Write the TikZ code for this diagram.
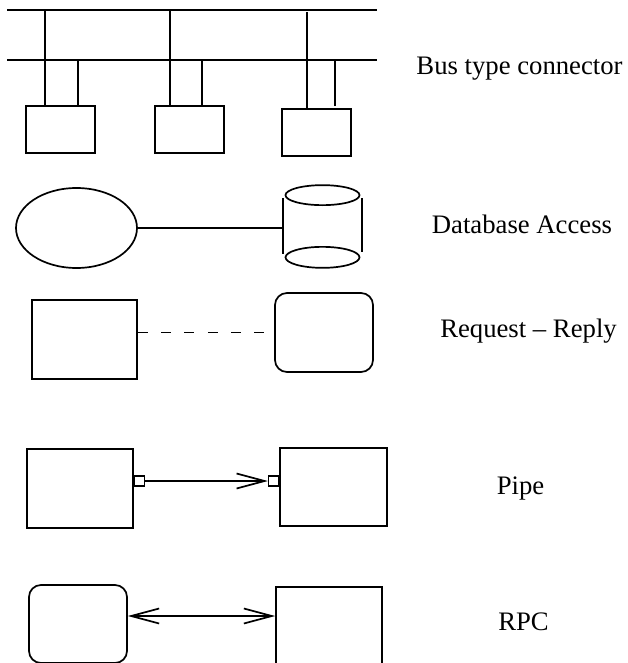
\documentclass[tikz,border=0pt]{standalone}
\usepackage{fontspec}
\setmainfont{Liberation Serif}
\usetikzlibrary{arrows.meta,shapes.geometric}
\begin{document}
\begin{tikzpicture}[
            x=1pt, y=-1pt,
            line width=1.7pt,
            box/.style={draw, rectangle, inner sep=0pt},
            rbox/.style={draw, rectangle, rounded corners=12pt, inner sep=0pt},
            port/.style={draw, rectangle, inner sep=0pt, minimum width=10pt, minimum height=10pt, line width=1.3pt},
            barb/.tip={Straight Barb[length=28pt,width=15pt]},
            desc/.style={anchor=base, inner sep=0pt, font=\fontsize{26.7}{32}\selectfont}
        ]
        \useasboundingbox (0,0) rectangle (627,663);

        \coordinate (T1) at (7,10);
        \coordinate (T2) at (377,10);
        \coordinate (M1) at (7,60);
        \coordinate (M2) at (377,60);
        \draw (T1) -- (T2);
        \draw (M1) -- (M2);

        \node[box, minimum width=69pt, minimum height=47pt] (B) at (60.5,129.5) {};
        \node[box, minimum width=69pt, minimum height=47pt] (C) at (189.5,129.5) {};
        \node[box, minimum width=69pt, minimum height=47pt] (D) at (316.5,132.5) {};

        \draw ([xshift=-15.5pt]B.north) -- ([xshift=-15.5pt]B.north |- T1);
        \draw ([xshift=17.5pt]B.north) -- ([xshift=17.5pt]B.north |- M1);
        \draw ([xshift=-19.5pt]C.north) -- ([xshift=-19.5pt]C.north |- T1);
        \draw ([xshift=12.5pt]C.north) -- ([xshift=12.5pt]C.north |- M1);
        \draw ([xshift=-9.5pt]D.north) -- ++(0,-96);
        \draw ([xshift=18.5pt,yshift=2pt]D.north) -- ++(0,-45);

        \node[draw, ellipse, minimum width=121pt, minimum height=80pt, inner sep=0pt] (E) at (76.5,228) {};
        \node[minimum width=77pt, minimum height=81pt, inner sep=0pt] (F) at (322.5,226.5) {};
        \draw ([yshift=-10pt]F.north) ellipse (37pt and 10pt);
        \draw ([yshift=10.5pt]F.south) ellipse (37pt and 10.5pt);
        \draw ([yshift=-13pt]F.north west) -- ([yshift=14pt]F.south west);
        \draw ([yshift=-13pt]F.north east) -- ([yshift=16pt]F.south east);
        \draw (E.east) -- (E.east -| F.west);

        \node[box, minimum width=105pt, minimum height=79pt] (G) at (84.5,339.5) {};
        \node[rbox, minimum width=98pt, minimum height=79pt] (H) at (324,332.5) {};
        \draw[dash pattern=on 10pt off 13.3pt] (G.east |- H.west) -- ([xshift=-10pt]H.west);

        \node[box, minimum width=106pt, minimum height=79pt] (P) at (80,488.5) {};
        \node[box, minimum width=107pt, minimum height=78pt] (Q) at (333.5,487) {};
        \node[port, anchor=west] (p) at ([yshift=7.5pt]P.east) {};
        \node[port, anchor=east] (q) at ([yshift=6pt]Q.west) {};
        \draw[-barb] (p.east) -- (q.west);

        \node[rbox, minimum width=98pt, minimum height=78pt] (R) at (78,624) {};
        \node[box, minimum width=106pt, minimum height=79pt] (S) at (329,626.5) {};
        \draw[barb-barb] ([yshift=8pt]R.east) -- ([yshift=8pt]R.east -| S.west);

        \node[desc] (t1) at (519.5,75) {Bus type connector};
        \node[desc] (t2) at (522,233) {Database Access};
        \node[desc] (t3) at (528.5,337) {Request -- Reply};
        \node[desc] (t4) at (520.5,494) {Pipe};
        \node[desc] (t5) at (523.5,630) {RPC};
    \end{tikzpicture}
\end{document}
